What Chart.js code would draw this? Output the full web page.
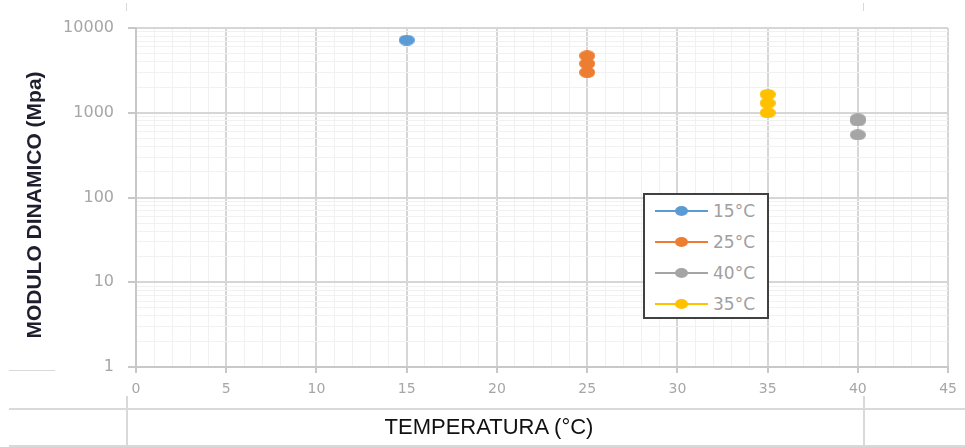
<!DOCTYPE html>
<html>
<head>
<meta charset="utf-8">
<script src="https://cdn.jsdelivr.net/npm/chart.js@4.4.1/dist/chart.umd.min.js"></script>
<style>
  body { margin: 0; background: #fff; }
  #wrap { position: relative; width: 965px; height: 447px; overflow: hidden; }
  canvas { position: absolute; left: 0; top: 0; }
  .ln { position: absolute; background: #d9d9d9; }
  #ytitle {
    position: absolute; left: 34px; top: 205px;
    transform: translate(-50%, -50%) rotate(-90deg);
    font: bold 21px "Liberation Sans Narrow", "Liberation Sans", sans-serif;
    color: #1e1e2e; white-space: nowrap;
  }
  #xtitle {
    position: absolute; left: 489px; top: 427px;
    transform: translate(-50%, -50%);
    font: 22px "Liberation Sans Narrow", "Liberation Sans", sans-serif;
    color: #111; white-space: nowrap;
  }
  #legend {
    position: absolute; left: 643px; top: 193px; width: 122px; height: 122px;
    border: 2px solid #404040; background: #fff;
  }
  .item { position: absolute; left: 0; height: 20px; }
  .item .sw { position: absolute; left: 10px; top: 9px; width: 53px; height: 2px; }
  .item .dt { position: absolute; left: 30px; top: 5px; width: 13px; height: 10px; border-radius: 50%; }
  .item .tx { position: absolute; left: 68px; top: 0; font: 17px "DejaVu Sans", sans-serif; color: #a0a0a0; line-height: 20px; }
</style>
</head>
<body>
<div id="wrap">
  <canvas id="chart" width="965" height="447"></canvas>
  <div class="ln" style="left:126px;top:3px;width:1px;height:8px;"></div>
  <div class="ln" style="left:863px;top:3px;width:1px;height:8px;"></div>
  <div class="ln" style="left:9px;top:370px;width:46px;height:1px;"></div>
  <div class="ln" style="left:9px;top:408px;width:956px;height:2px;"></div>
  <div class="ln" style="left:9px;top:445px;width:956px;height:2px;"></div>
  <div class="ln" style="left:126px;top:396px;width:2px;height:51px;"></div>
  <div class="ln" style="left:863px;top:396px;width:2px;height:51px;"></div>
  <div id="ytitle">MODULO DINAMICO (Mpa)</div>
  <div id="xtitle">TEMPERATURA (°C)</div>
  <div id="legend"></div>
</div>
<script>
// datos
const seriesNames = ['15°C', '25°C', '40°C', '35°C'];
const seriesColors = ['#5b9bd5', '#ed7d31', '#a5a5a5', '#ffc000'];
const temps = [15, 25, 40, 35];
const mod15 = [7200];
const mod25 = [4700, 3800, 3000];
const mod40 = [850, 800, 550];
const mod35 = [1650, 1300, 1000];
const xTicks = [0, 5, 10, 15, 20, 25, 30, 35, 40, 45];
const yTicks = [1, 10, 100, 1000, 10000];

const allMods = [mod15, mod25, mod40, mod35];

function makeDot(color, w, h) {
    const c = document.createElement('canvas');
    c.width = w; c.height = h;
    const g = c.getContext('2d');
    g.fillStyle = color;
    g.beginPath();
    g.ellipse(w / 2, h / 2, w / 2, h / 2, 0, 0, Math.PI * 2);
    g.fill();
    return c;
}

const datasets = seriesNames.map((name, i) => ({
    label: name,
    data: allMods[i].map(v => ({ x: temps[i], y: v })),
    pointStyle: makeDot(seriesColors[i], 16, 11),
    backgroundColor: seriesColors[i],
    borderColor: seriesColors[i],
    showLine: false
}));

// ticks menores del eje log
const yAll = [];
for (let d = 0; d < yTicks.length - 1; d++) {
    for (let m = 1; m <= 9; m++) yAll.push(m * yTicks[d]);
}
yAll.push(yTicks[yTicks.length - 1]);

const isMajorY = v => yTicks.includes(v);
const isMajorX = v => xTicks.includes(v);

// leyenda
const legend = document.getElementById('legend');
seriesNames.forEach((name, i) => {
    const it = document.createElement('div');
    it.className = 'item';
    it.style.top = (6 + i * 31) + 'px';
    it.innerHTML = `<div class="sw" style="background:${seriesColors[i]}"></div>
        <div class="dt" style="background:${seriesColors[i]}"></div>
        <div class="tx">${name}</div>`;
    legend.appendChild(it);
});

new Chart(document.getElementById('chart'), {
    type: 'scatter',
    data: { datasets: datasets },
    options: {
        responsive: false,
        animation: false,
        layout: { padding: { top: 28, right: 15, left: 0, bottom: 0 } },
        plugins: { legend: { display: false }, tooltip: { enabled: false } },
        scales: {
            x: {
                type: 'linear', min: 0, max: 45,
                afterFit: s => { s.height = 80; },
                afterBuildTicks: s => { s.ticks = []; for (let v = 0; v <= 45; v++) s.ticks.push({ value: v }); },
                border: { color: '#c8c8c8', width: 2 },
                grid: {
                    color: c => isMajorX(c.tick.value) ? '#d6d6d6' : '#f1f1f1',
                    lineWidth: c => isMajorX(c.tick.value) ? 2 : 1,
                    tickColor: c => isMajorX(c.tick.value) ? '#c8c8c8' : 'rgba(0,0,0,0)',
                    tickLength: 6
                },
                ticks: {
                    autoSkip: false, maxRotation: 0, padding: 8,
                    color: '#a6a6a6', font: { family: 'DejaVu Sans', size: 14 },
                    callback: v => isMajorX(v) ? String(v) : ''
                }
            },
            y: {
                type: 'logarithmic', min: 1, max: 10000,
                afterFit: s => { s.width = 136; },
                afterBuildTicks: s => { s.ticks = yAll.map(v => ({ value: v })); },
                border: { color: '#c8c8c8', width: 2 },
                grid: {
                    color: c => isMajorY(c.tick.value) ? '#d6d6d6' : '#f1f1f1',
                    lineWidth: c => isMajorY(c.tick.value) ? 2 : 1,
                    tickColor: c => isMajorY(c.tick.value) ? '#c8c8c8' : 'rgba(0,0,0,0)',
                    tickLength: 8
                },
                ticks: {
                    autoSkip: false, padding: 14,
                    color: '#a6a6a6', font: { family: 'DejaVu Sans', size: 16 },
                    callback: v => isMajorY(v) ? String(v) : ''
                }
            }
        }
    }
});
</script>
</body>
</html>
